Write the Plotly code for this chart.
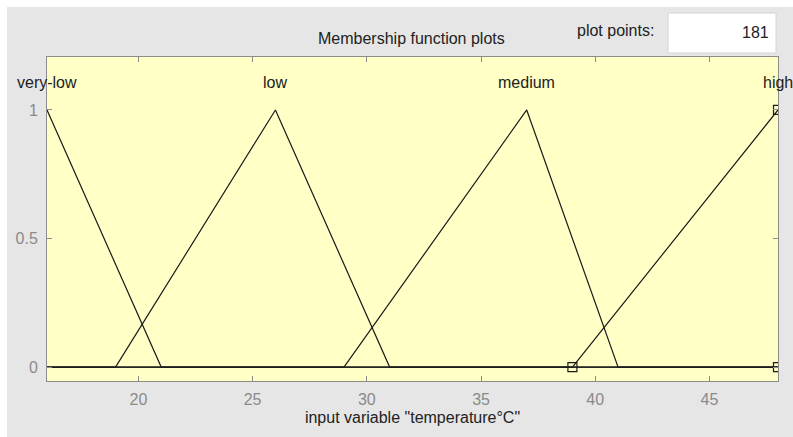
import plotly.graph_objects as go

# Membership functions of input variable "temperature°C" (triangular, params a, b, c)
mf_names = ["very-low", "low", "medium", "high"]
mf_a = [11, 19, 29, 39]
mf_b = [16, 26, 37, 48]
mf_c = [21, 31, 41, 48]
x_range = [16, 48]
x_ticks = [20, 25, 30, 35, 40, 45]
y_ticks = [0, 0.5, 1]
y_tick_text = ["0", "0.5", "1"]
plot_points = 181
selected_mf = "high"

FONT = "Liberation Sans, Arial, sans-serif"
FS = 16


def trimf(x, a, b, c):
    left = (x - a) / (b - a) if b != a else (1.0 if x >= b else 0.0)
    right = (c - x) / (c - b) if c != b else (1.0 if x <= b else 0.0)
    return max(0.0, min(left, right))


fig = go.Figure()

for name, a, b, c in zip(mf_names, mf_a, mf_b, mf_c):
    xs = sorted({x_range[0], x_range[1]} | {v for v in (a, b, c) if x_range[0] <= v <= x_range[1]})
    pts_x = list(xs)
    pts_y = [trimf(xv, a, b, c) for xv in xs]
    fig.add_trace(go.Scatter(x=pts_x, y=pts_y, mode="lines",
                             line=dict(color="#1a1a1a", width=1.2),
                             hoverinfo="skip", showlegend=False))
    if name == selected_mf:
        fig.add_trace(go.Scatter(x=[a, b, c], y=[0, 1, 0], mode="markers",
                                 marker=dict(symbol="square-open", size=9,
                                             color="#1a1a1a", line=dict(width=1.2)),
                                 cliponaxis=True, hoverinfo="skip", showlegend=False))
    fig.add_annotation(x=b, y=1.105, text=name, showarrow=False,
                       font=dict(family=FONT, size=FS, color="#222"),
                       xanchor="center", yanchor="middle")

W, H = 793, 437
ml, mr, mt, mb = 47, 15, 57, 56
pw, ph = W - ml - mr, H - mt - mb


def px(xp):
    return (xp - ml) / pw


def py(yp):
    return (H - mb - yp) / ph


# white strips framing the gray panel
fig.add_shape(type="rect", xref="paper", yref="paper", x0=px(0), x1=px(W), y0=py(7), y1=py(0),
              fillcolor="white", line_width=0, layer="below")
fig.add_shape(type="rect", xref="paper", yref="paper", x0=px(0), x1=px(7), y0=py(H), y1=py(0),
              fillcolor="white", line_width=0, layer="below")
# plot points entry box
fig.add_shape(type="rect", xref="paper", yref="paper", x0=px(668), x1=px(776), y0=py(53), y1=py(13),
              fillcolor="white", line=dict(color="#d4d4d4", width=1))
fig.add_annotation(xref="paper", yref="paper", x=px(771), y=py(33), text=str(plot_points),
                   showarrow=False, xanchor="right", yanchor="middle",
                   font=dict(family=FONT, size=FS, color="#222"))
fig.add_annotation(xref="paper", yref="paper", x=px(656), y=py(30), text="plot points:",
                   showarrow=False, xanchor="right", yanchor="middle",
                   font=dict(family=FONT, size=FS, color="#222"))
fig.add_annotation(xref="paper", yref="paper", x=px(411), y=py(39), text="Membership function plots",
                   showarrow=False, xanchor="center", yanchor="middle",
                   font=dict(family=FONT, size=FS, color="#222"))

axis_common = dict(showgrid=False, zeroline=False, showline=True, linecolor="#8c8c8c",
                   linewidth=1, mirror="ticks", ticks="inside", ticklen=5, tickcolor="#8c8c8c",
                   tickfont=dict(family=FONT, size=FS, color="#8a8a8a"))

fig.update_layout(
    width=W, height=H,
    margin=dict(l=ml, r=mr, t=mt, b=mb),
    paper_bgcolor="#e6e6e6",
    plot_bgcolor="#ffffc6",
    xaxis=dict(range=x_range, tickvals=x_ticks, ticklabelstandoff=4, **axis_common,
               title=dict(text='input variable "temperature°C"', standoff=4,
                          font=dict(family=FONT, size=FS, color="#222"))),
    yaxis=dict(range=[-0.054, 1.206], tickvals=y_ticks, ticktext=y_tick_text,
               ticklabelstandoff=5, **axis_common),
)

fig.write_html("out.html")
